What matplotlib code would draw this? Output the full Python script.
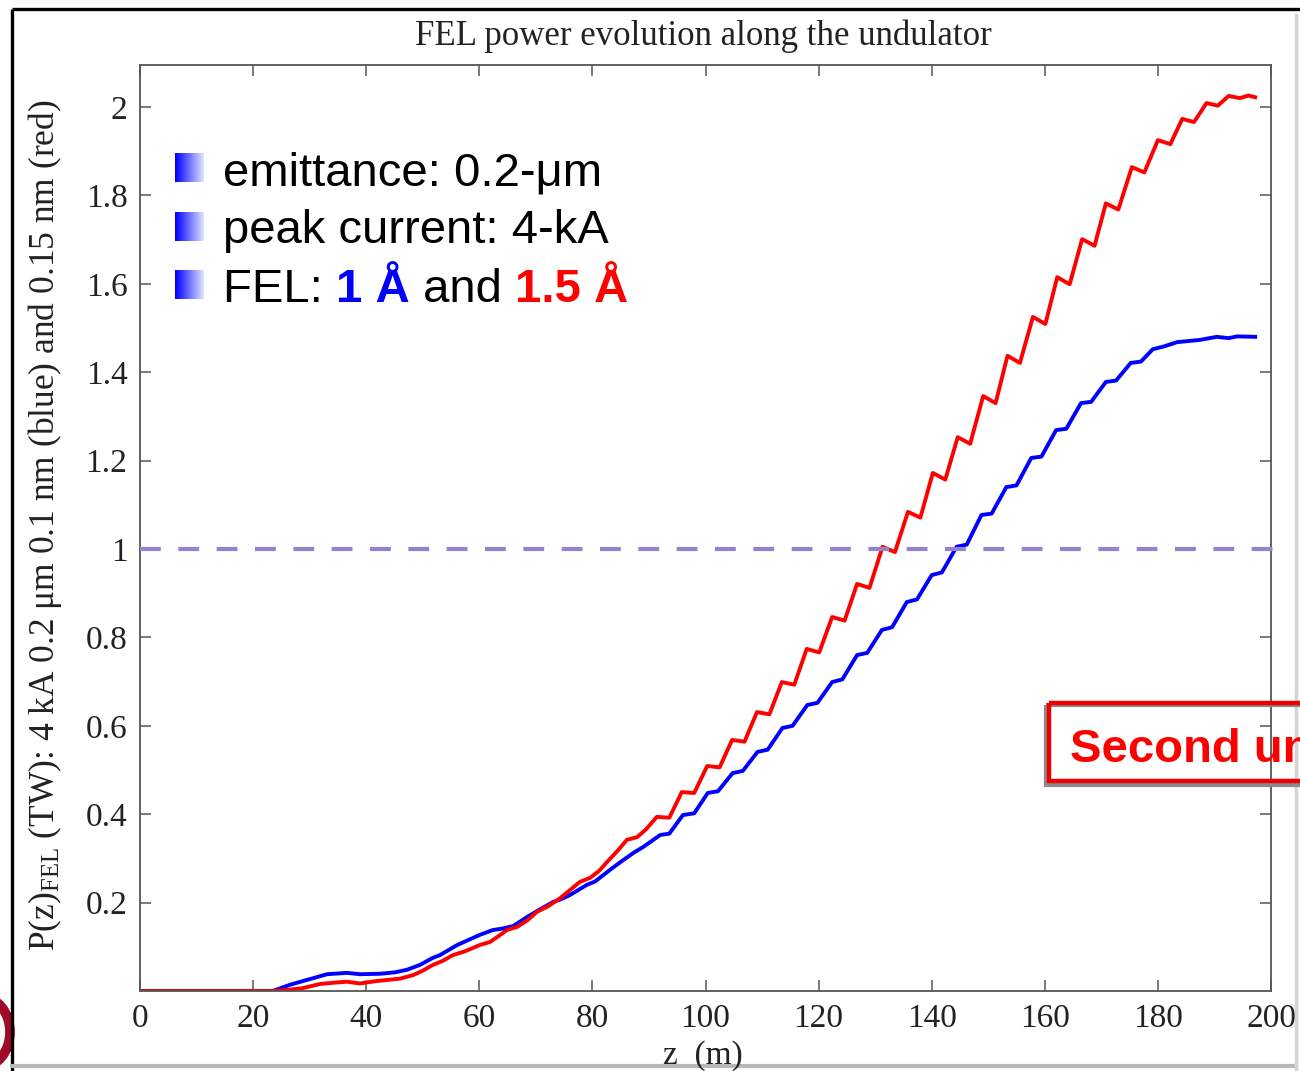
"""FEL power evolution along the undulator: 1 A (blue) vs 1.5 A (red) at 4 kA, 0.2 um."""

import matplotlib
matplotlib.use("Agg")
import matplotlib.pyplot as plt  # noqa: E402
import numpy as np  # noqa: E402
from matplotlib.colors import LinearSegmentedColormap  # noqa: E402
from matplotlib.patches import Arc, Rectangle  # noqa: E402

# z (m) and P (TW)
z_blue = [0, 23.5, 26.5, 29.5, 33.1, 36.6, 38.9, 42.4, 45.0, 47.2, 49.5, 51.8, 53.0, 56.1,
          58.0, 60.1, 62.4, 64.0, 66.0, 68.4, 70.5, 73.0, 74.5, 76.0, 79.0, 80.5, 83.1,
          85.0, 87.2, 89.0, 92.0, 93.6, 96.0, 98.0, 100.4, 102.2, 104.8, 106.6, 109.2,
          111.0, 113.6, 115.4, 118.0, 119.8, 122.4, 124.2, 126.8, 128.6, 131.2, 133.0,
          135.6, 137.4, 140.0, 141.8, 144.4, 146.2, 148.8, 150.6, 153.2, 155.0, 157.6,
          159.4, 162.0, 163.8, 166.4, 168.2, 170.8, 172.6, 175.2, 177.0, 179.1, 181.0,
          183.4, 187.4, 190.4, 192.5, 194.0, 197.2]
p_blue = [0, 0, 0.014, 0.025, 0.038, 0.041, 0.038, 0.039, 0.042, 0.048, 0.059, 0.075, 0.081,
          0.104, 0.115, 0.127, 0.138, 0.141, 0.147, 0.167, 0.183, 0.201, 0.208, 0.217,
          0.240, 0.248, 0.274, 0.292, 0.312, 0.326, 0.353, 0.356, 0.398, 0.402, 0.448,
          0.452, 0.493, 0.498, 0.541, 0.546, 0.595, 0.600, 0.647, 0.652, 0.699, 0.705,
          0.760, 0.765, 0.817, 0.823, 0.880, 0.886, 0.941, 0.947, 1.005, 1.010, 1.077,
          1.080, 1.140, 1.144, 1.206, 1.209, 1.269, 1.272, 1.330, 1.333, 1.378, 1.381,
          1.421, 1.424, 1.452, 1.458, 1.468, 1.473, 1.480, 1.477, 1.481, 1.480]

z_red = [0, 23.5, 25.5, 28.6, 31.9, 34.5, 36.6, 38.9, 41.5, 43.7, 46.0, 48.3, 50.0, 51.8,
         53.5, 55.3, 57.5, 60.1, 61.9, 63.5, 64.9, 66.7, 68.5, 70.2, 72.2, 74.3, 76.0,
         77.8, 79.6, 81.2, 82.6, 84.5, 86.1, 87.9, 89.5, 91.4, 93.6, 95.8, 98.0, 100.3,
         102.5, 104.7, 106.9, 109.1, 111.3, 113.5, 115.7, 117.9, 120.1, 122.4, 124.6,
         126.8, 129.0, 131.3, 133.5, 135.8, 138.0, 140.2, 142.4, 144.6, 146.8, 149.1,
         151.3, 153.4, 155.6, 157.9, 160.1, 162.2, 164.4, 166.6, 168.8, 170.8, 173.0,
         175.4, 177.6, 180.0, 182.2, 184.3, 186.4, 188.6, 190.6, 192.5, 194.5, 196.0, 197.2]
p_red = [0, 0, 0.002, 0.006, 0.016, 0.019, 0.021, 0.017, 0.022, 0.025, 0.028, 0.036, 0.046,
         0.059, 0.068, 0.081, 0.090, 0.104, 0.111, 0.125, 0.138, 0.145, 0.160, 0.179,
         0.192, 0.210, 0.228, 0.247, 0.256, 0.272, 0.292, 0.318, 0.342, 0.348, 0.366,
         0.394, 0.392, 0.450, 0.448, 0.509, 0.506, 0.568, 0.564, 0.631, 0.626, 0.699,
         0.693, 0.774, 0.766, 0.846, 0.838, 0.921, 0.912, 1.005, 0.993, 1.084, 1.071,
         1.172, 1.157, 1.253, 1.238, 1.346, 1.330, 1.437, 1.421, 1.525, 1.509, 1.615,
         1.599, 1.701, 1.686, 1.782, 1.768, 1.864, 1.852, 1.925, 1.916, 1.973, 1.966,
         2.009, 2.003, 2.025, 2.020, 2.026, 2.022]

saturation_level = 1.0
x_ticks = [0, 20, 40, 60, 80, 100, 120, 140, 160, 180, 200]
y_ticks = [0.2, 0.4, 0.6, 0.8, 1.0, 1.2, 1.4, 1.6, 1.8, 2.0]
y_ticklabels = ["0.2", "0.4", "0.6", "0.8", "1", "1.2", "1.4", "1.6", "1.8", "2"]
bullets = ["emittance: 0.2-μm", "peak current: 4-kA"]

SERIF = "Liberation Serif"
SANS = "Liberation Sans"
W, H = 1300, 1071

plt.rcParams["mathtext.fontset"] = "custom"
plt.rcParams["mathtext.rm"] = SERIF
plt.rcParams["mathtext.it"] = SERIF + ":italic"

fig = plt.figure(figsize=(W / 100, H / 100), dpi=100)
fig.patch.set_facecolor("white")

# main axes, MATLAB style box with inward ticks
ax = fig.add_axes([140 / W, (H - 991) / H, 1131 / W, 926 / H])
ax.plot(z_blue, p_blue, color="#0000ff", lw=2.8, solid_joinstyle="round")
ax.plot(z_red, p_red, color="#ff0000", lw=2.8, solid_joinstyle="round")
ax.axhline(saturation_level, xmin=0, xmax=1.004, color="#9582cc", lw=3,
           ls=(0, (5, 4.2)), clip_on=False, zorder=5)
ax.set_xlim(0, 200); ax.set_ylim(0, 2.095)
ax.set_xticks(x_ticks); ax.set_xticklabels([str(t) for t in x_ticks])
ax.set_yticks(y_ticks); ax.set_yticklabels(y_ticklabels)
ax.tick_params(direction="in", length=8, width=1.1, color="#555555", labelcolor="#222222",
               labelsize=24, top=True, right=True, pad=9)
for lab in ax.get_xticklabels() + ax.get_yticklabels():
    lab.set_family(SERIF)
for sp in ax.spines.values():
    sp.set_color("#555555"); sp.set_linewidth(1.3)

# overlay in pixel coordinates for the slide decorations and texts
deco = fig.add_axes([0, 0, 1, 1], facecolor="none")
deco.set_xlim(0, W); deco.set_ylim(H, 0); deco.axis("off")

deco.text(703, 36, "FEL power evolution along the undulator", family=SERIF, fontsize=25,
          color="#222222", ha="center", va="center")
deco.text(703, 1056, "z  (m)", family=SERIF, fontsize=24, color="#222222",
          ha="center", va="center")
deco.text(45, 525, "P(z)$_{\\mathrm{FEL}}$ (TW): 4 kA 0.2 μm 0.1 nm (blue) and 0.15 nm (red)",
          family=SERIF, fontsize=25.5, color="#222222", rotation=90, ha="center", va="center")

# gradient bullets and bullet text
grad = LinearSegmentedColormap.from_list("bullet", ["#0000ff", "#dfe3ff"])
for top in (153, 212, 270):
    deco.imshow(np.linspace(0, 1, 40)[None, :], cmap=grad, aspect="auto",
                extent=(175, 204, top + 29, top), zorder=6)
deco.set_xlim(0, W); deco.set_ylim(H, 0)
for y, s in zip((185, 243), bullets):
    deco.text(223, y, s, family=SANS, fontsize=34, va="baseline", ha="left")
t = deco.text(223, 302, "FEL: ", family=SANS, fontsize=34, va="baseline", ha="left")
t = deco.annotate("1 Å", xy=(1, 0), xycoords=t, va="bottom", ha="left", family=SANS,
                  fontsize=34, weight="bold", color="#0000ff")
t = deco.annotate(" and ", xy=(1, 0), xycoords=t, va="bottom", ha="left", family=SANS,
                  fontsize=34)
deco.annotate("1.5 Å", xy=(1, 0), xycoords=t, va="bottom", ha="left", family=SANS,
              fontsize=34, weight="bold", color="#ff0000")

# red callout box, cut by the slide edge as in the slide
deco.add_patch(Rectangle((1046, 705), 300, 80, fill=False, ec="#8a8a8a", lw=3, zorder=6))
deco.add_patch(Rectangle((1049, 703), 300, 78, fill=False, ec="#ee0000", lw=3.2, zorder=7))
deco.text(1070, 762, "Second undulator", family=SANS, fontsize=34, weight="bold",
          color="#ff0000", va="baseline", ha="left", zorder=7, clip_on=True)

# slide frame and logo fragment
deco.plot([12, W], [9, 9], color="black", lw=2.4, solid_capstyle="butt")
deco.plot([12, 12], [9, H], color="black", lw=2.4, solid_capstyle="butt")
deco.plot([12, 1296], [1066, 1066], color="#b8b8b8", lw=3)
deco.plot([1296, 1296], [15, H], color="#d4d4d4", lw=2.5)
deco.add_patch(Arc((-18, 1032), 56, 70, theta1=0, theta2=360, color="#a00a28", lw=7))

fig.savefig("out.png", dpi=100)
